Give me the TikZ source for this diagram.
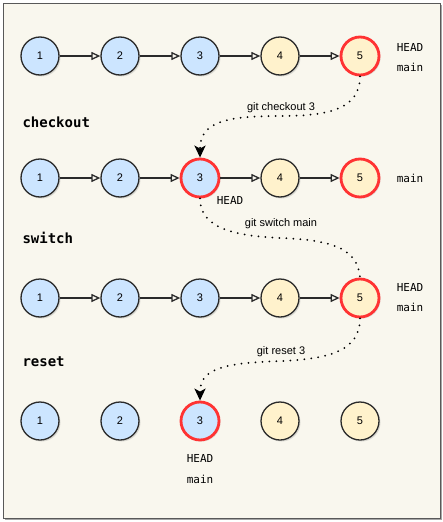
\documentclass[tikz,border=0pt]{standalone}
\usepackage{fontspec}
\setmainfont{Liberation Sans}
\newfontfamily\monof{DejaVu Sans Mono}
\usetikzlibrary{arrows.meta,shadows}
\definecolor{bgc}{HTML}{F9F7EE}
\definecolor{cblue}{HTML}{CCE5FF}
\definecolor{cyel}{HTML}{FFF2CC}
\definecolor{cred}{HTML}{FF3333}
\definecolor{edgec}{HTML}{2A2A2A}
\begin{document}
\begin{tikzpicture}[x=1pt,y=-1pt,
  commit/.style={circle, draw=edgec, line width=1.3pt, minimum size=38pt, inner sep=0pt,
    font=\fontsize{11}{13}\selectfont,
    drop shadow={shadow xshift=1.5pt, shadow yshift=-1.5pt, opacity=0.25}},
  oldc/.style={commit, fill=cblue},
  newc/.style={commit, fill=cyel},
  headc/.style={draw=cred, line width=2.8pt},
  link/.style={-{Triangle[open,length=9pt,width=8pt]}, line width=1.3pt, draw=edgec},
  move/.style={dash pattern=on 0pt off 7pt, line cap=round, line width=2pt},
  tip/.style={-{Stealth[length=12pt,width=11pt,inset=3pt]}},
  refl/.style={font=\monof\fontsize{11}{13}\selectfont},
  title/.style={font=\monof\bfseries\fontsize{14}{16}\selectfont, anchor=west},
  cmd/.style={font=\fontsize{11}{13}\selectfont}
]
\useasboundingbox (0,0) rectangle (443,522);
\fill[black!35] (5,5) rectangle (442,520);
\draw[fill=bgc, draw=black!65, line width=1pt] (3,3) rectangle (440,518);

% row 1
\node[oldc] (a1) at (40,56) {1};
\node[oldc] (a2) at (120,56) {2};
\node[oldc] (a3) at (200,56) {3};
\node[newc] (a4) at (280,56) {4};
\node[newc,headc] (a5) at (360,56) {5};
\draw[link] (a1) -- (a2);
\draw[link] (a2) -- (a3);
\draw[link] (a3) -- (a4);
\draw[link] (a4) -- (a5);
\node[refl] (ha) at (410,47) {HEAD};
\node[refl] (ma) at (410,67) {main};

% row 2
\node[title] (t2) at (19,122) {checkout};
\node[oldc] (b1) at (40,178) {1};
\node[oldc] (b2) at (120,178) {2};
\node[oldc,headc] (b3) at (200,178) {3};
\node[newc] (b4) at (280,178) {4};
\node[newc,headc] (b5) at (360,178) {5};
\draw[link] (b1) -- (b2);
\draw[link] (b2) -- (b3);
\draw[link] (b3) -- (b4);
\draw[link] (b4) -- (b5);
\node[refl] (mb) at (410,178) {main};
\node[refl] (hb) at (230,200) {HEAD};

% row 3
\node[title] (t3) at (19,238) {switch};
\node[oldc] (c1) at (40,298) {1};
\node[oldc] (c2) at (120,298) {2};
\node[oldc] (c3) at (200,298) {3};
\node[newc] (c4) at (280,298) {4};
\node[newc,headc] (c5) at (360,298) {5};
\draw[link] (c1) -- (c2);
\draw[link] (c2) -- (c3);
\draw[link] (c3) -- (c4);
\draw[link] (c4) -- (c5);
\node[refl] (hc) at (410,287) {HEAD};
\node[refl] (mc) at (410,307) {main};

% row 4
\node[title] (t4) at (19,362) {reset};
\node[oldc] (d1) at (40,421) {1};
\node[oldc] (d2) at (120,421) {2};
\node[oldc,headc] (d3) at (200,421) {3};
\node[newc] (d4) at (280,421) {4};
\node[newc] (d5) at (360,421) {5};
\node[refl] (hd) at (200,458) {HEAD};
\node[refl] (md) at (200,479) {main};

% moves
\coordinate (k1) at (281,116);
\coordinate (k2) at (281,238);
\coordinate (k3) at (281,361);
\draw[move,tip] (a5.south) .. controls +(0,32) and (330,116) .. (k1)
  .. controls (225,116) and (200,122) .. (b3.north);
\node[cmd] (l1) at (281,108) {git checkout 3};
\draw[move] (b3.south) .. controls +(0,30) and (235,236) .. (k2)
  .. controls (335,240) and (360,250) .. ([yshift=-3pt]c5.north);
\node[cmd] (l2) at (281,224) {git switch main};
\draw[move,tip] (c5.south) .. controls +(0,32) and (330,359) .. (k3)
  .. controls (225,363) and (200,368) .. (d3.north);
\node[cmd] (l3) at (281,352) {git reset 3};
\end{tikzpicture}
\end{document}
